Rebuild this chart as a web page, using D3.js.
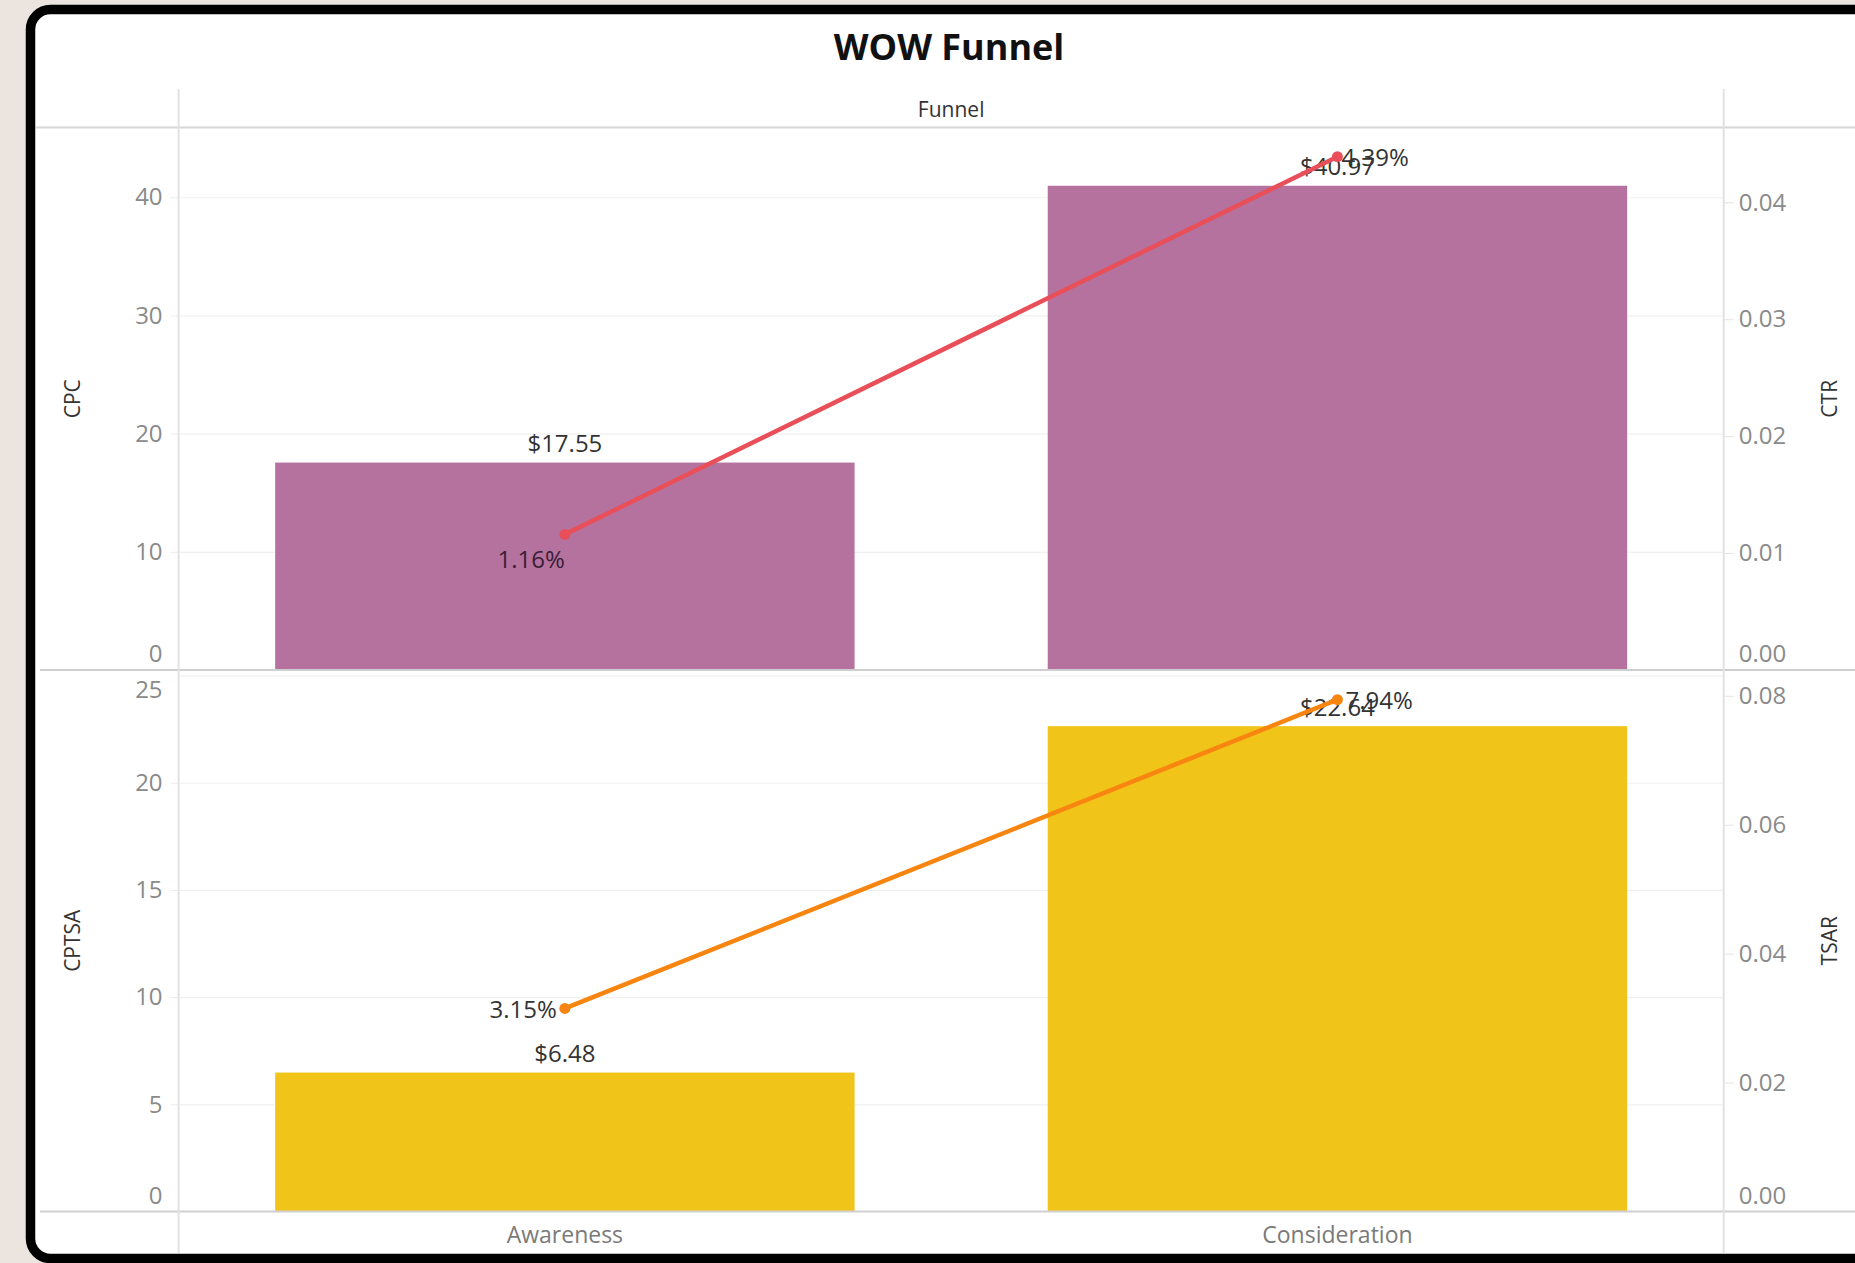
<!DOCTYPE html>
<html>
<head>
<meta charset="utf-8">
<script src="https://cdn.jsdelivr.net/npm/d3@7"></script>
<style>
  html, body { margin: 0; padding: 0; background: #ece5df; }
  svg { display: block; }
  text { font-family: "Open Sans", "DejaVu Sans", sans-serif; }
</style>
</head>
<body>
<svg id="chart" width="1855" height="1263"></svg>
<script>
// ---- data ----
const title = "WOW Funnel";
const headerLabel = "Funnel";
const categories = ["Awareness", "Consideration"];
const cpc = [17.55, 40.97];
const ctr = [0.0116, 0.0439];
const cptsa = [6.48, 22.64];
const tsar = [0.0315, 0.0794];
const cpcTicks = [0, 10, 20, 30, 40];
const ctrTicks = [0, 0.01, 0.02, 0.03, 0.04];
const cptsaTicks = [0, 5, 10, 15, 20, 25];
const tsarTicks = [0, 0.02, 0.04, 0.06, 0.08];
const cpcDomain = [0, 45.9];
const ctrDomain = [0, 0.0464];
const cptsaDomain = [0, 25.26];
const tsarDomain = [0, 0.084];

// ---- layout ----
const W = 1855, H = 1263;
const plotL = 178.6, plotR = 1723.7;
const svg = d3.select("#chart");

// frame
svg.append("rect").attr("x", 0).attr("y", 0).attr("width", W).attr("height", H).attr("fill", "#ece5df");
svg.append("rect")
  .attr("x", 30.5).attr("y", 9.5).attr("width", 1900).attr("height", 1249)
  .attr("rx", 20).attr("fill", "#ffffff").attr("stroke", "#000").attr("stroke-width", 9.5);

// title
svg.append("text").attr("x", 949).attr("y", 60).attr("text-anchor", "middle")
  .attr("font-size", 36).attr("font-weight", 700).attr("fill", "#111").text(title);

// header
svg.append("text").attr("x", (plotL + plotR) / 2).attr("y", 117).attr("text-anchor", "middle")
  .attr("font-size", 21).attr("fill", "#333").text(headerLabel);

const x = d3.scaleBand().domain(categories).range([plotL, plotR]).paddingInner(0.25).paddingOuter(0.125);
const bw = x.bandwidth();

const panels = [
  { top: 127.5, bottom: 670, bars: cpc, barDomain: cpcDomain, barTicks: cpcTicks, barTitle: "CPC",
    barColor: "#b5729e", line: ctr, lineDomain: ctrDomain, lineTicks: ctrTicks, lineTitle: "CTR",
    lineColor: "#e94f58", lineLabelColor: ["#3a1e37", "#333"],
    lineLabelPlace: [{anchor: "end", dx: 0, dy: 24}, {anchor: "start", dx: 4, dy: 0}],
    leftFmt: d3.format("d"), rightFmt: d3.format(".2f") },
  { top: 670, bottom: 1211.5, bars: cptsa, barDomain: cptsaDomain, barTicks: cptsaTicks, barTitle: "CPTSA",
    barColor: "#f0c419", line: tsar, lineDomain: tsarDomain, lineTicks: tsarTicks, lineTitle: "TSAR",
    lineColor: "#f8850f", lineLabelColor: ["#333", "#333"],
    lineLabelPlace: [{anchor: "end", dx: -8, dy: 0}, {anchor: "start", dx: 8, dy: 0}],
    leftFmt: d3.format("d"), rightFmt: d3.format(".2f") }
];

const fmtMoney = d => "$" + d.toFixed(2);
const fmtPct = d => (d * 100).toFixed(2) + "%";

panels.forEach((p, pi) => {
  const yL = d3.scaleLinear().domain(p.barDomain).range([p.bottom, p.top]);
  const yR = d3.scaleLinear().domain(p.lineDomain).range([p.bottom, p.top]);
  const clampY = v => Math.min(p.bottom - 16, Math.max(p.top + 20, v));

  // gridlines
  svg.append("g").selectAll("line").data(p.barTicks.filter(t => t > 0)).join("line")
    .attr("x1", plotL).attr("x2", plotR)
    .attr("y1", d => yL(d) + 0.5).attr("y2", d => yL(d) + 0.5)
    .attr("stroke", "#f0f0f0").attr("stroke-width", 1.2);

  // left axis
  const gl = svg.append("g").attr("transform", `translate(${plotL},0)`)
    .call(d3.axisLeft(yL).tickValues(p.barTicks).tickSize(8).tickPadding(8).tickFormat(p.leftFmt));
  gl.select(".domain").remove();
  gl.selectAll(".tick line").attr("stroke", "#ececec");
  gl.selectAll(".tick text").attr("font-size", 24).attr("fill", "#8a8a8a")
    .attr("font-family", '"Open Sans", sans-serif')
    .attr("y", d => clampY(yL(d)) - yL(d));
  gl.selectAll(".tick").filter(d => d === 0 || yL(d) <= p.top + 8).select("line").remove();

  // right axis
  const gr = svg.append("g").attr("transform", `translate(${plotR},0)`)
    .call(d3.axisRight(yR).tickValues(p.lineTicks).tickSize(10).tickPadding(5).tickFormat(p.rightFmt));
  gr.select(".domain").remove();
  gr.selectAll(".tick line").attr("stroke", "#e4e4e4");
  gr.selectAll(".tick text").attr("font-size", 24).attr("fill", "#8a8a8a")
    .attr("font-family", '"Open Sans", sans-serif')
    .attr("y", d => clampY(yR(d)) - yR(d));
  gr.selectAll(".tick").filter(d => d === 0).select("line").remove();

  // axis titles
  const cy = (p.top + p.bottom) / 2;
  svg.append("text").attr("transform", `translate(80,${cy}) rotate(-90)`).attr("text-anchor", "middle")
    .attr("font-size", 21).attr("fill", "#333").text(p.barTitle);
  svg.append("text").attr("transform", `translate(1837,${cy}) rotate(-90)`).attr("text-anchor", "middle")
    .attr("font-size", 21).attr("fill", "#333").text(p.lineTitle);

  // bars
  svg.append("g").selectAll("rect").data(p.bars).join("rect")
    .attr("x", (d, i) => x(categories[i])).attr("width", bw)
    .attr("y", d => yL(d)).attr("height", d => yL(0) - yL(d))
    .attr("fill", p.barColor);

  // bar labels
  svg.append("g").selectAll("text").data(p.bars).join("text")
    .attr("x", (d, i) => x(categories[i]) + bw / 2).attr("y", d => yL(d) - 20)
    .attr("dominant-baseline", "central").attr("text-anchor", "middle")
    .attr("font-size", 24).attr("fill", "#333").text(fmtMoney);

  // line
  const line = d3.line().x((d, i) => x(categories[i]) + bw / 2).y(d => yR(d));
  svg.append("path").datum(p.line).attr("d", line).attr("fill", "none")
    .attr("stroke", p.lineColor).attr("stroke-width", 4.5).attr("stroke-linecap", "round");
  svg.append("g").selectAll("circle").data(p.line).join("circle")
    .attr("cx", (d, i) => x(categories[i]) + bw / 2).attr("cy", d => yR(d)).attr("r", 5.5)
    .attr("fill", p.lineColor);

  // line labels
  svg.append("g").selectAll("text").data(p.line).join("text")
    .attr("x", (d, i) => x(categories[i]) + bw / 2 + p.lineLabelPlace[i].dx)
    .attr("y", (d, i) => yR(d) + p.lineLabelPlace[i].dy)
    .attr("text-anchor", (d, i) => p.lineLabelPlace[i].anchor)
    .attr("dominant-baseline", "central")
    .attr("font-size", 24).attr("fill", (d, i) => p.lineLabelColor[i]).text(fmtPct);
});

// structural lines
const lines = svg.append("g");
lines.append("line").attr("x1", 36).attr("x2", W).attr("y1", 127.5).attr("y2", 127.5)
  .attr("stroke", "#d6d6d6").attr("stroke-width", 2);
lines.append("line").attr("x1", 40).attr("x2", W).attr("y1", 670).attr("y2", 670)
  .attr("stroke", "#cfcfcf").attr("stroke-width", 2);
lines.append("line").attr("x1", 40).attr("x2", W).attr("y1", 1211.5).attr("y2", 1211.5)
  .attr("stroke", "#d0d0d0").attr("stroke-width", 2);
[plotL, plotR].forEach(xx => {
  lines.append("line").attr("x1", xx).attr("x2", xx).attr("y1", 89).attr("y2", 1253)
    .attr("stroke", "#e2e2e2").attr("stroke-width", 2);
});

// category labels
svg.append("g").selectAll("text").data(categories).join("text")
  .attr("x", d => x(d) + bw / 2).attr("y", 1234).attr("dominant-baseline", "central")
  .attr("text-anchor", "middle").attr("font-size", 23).attr("fill", "#7a7a7a").text(d => d);
</script>
</body>
</html>
